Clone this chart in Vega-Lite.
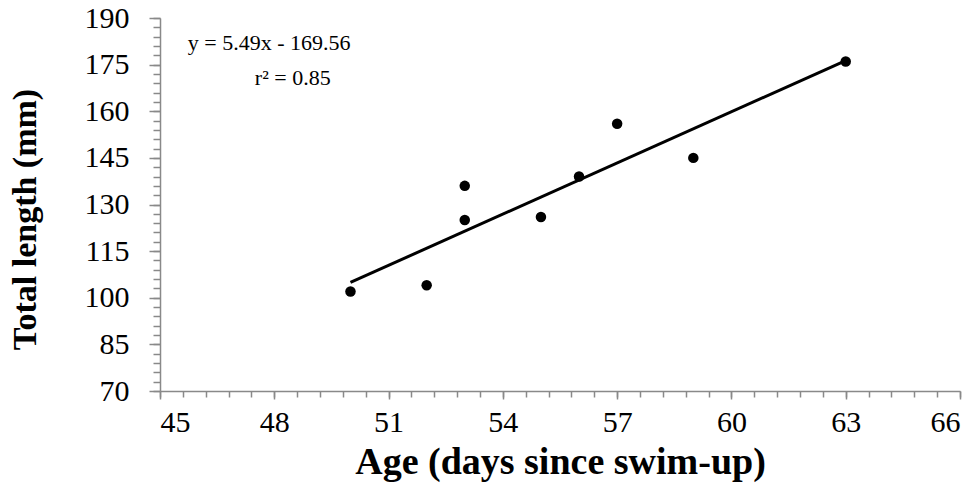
{
  "$schema": "https://vega.github.io/schema/vega-lite/v6.json",
  "width": 800,
  "height": 373,
  "autosize": "none",
  "padding": {"left": 160, "top": 18, "right": 20, "bottom": 99},
  "background": "white",
  "config": {"view": {"stroke": null}},
  "datasets": {
    "points": [
      {"age": 50, "length": 102},
      {"age": 52, "length": 104},
      {"age": 53, "length": 136},
      {"age": 53, "length": 125},
      {"age": 55, "length": 126},
      {"age": 56, "length": 139},
      {"age": 57, "length": 156},
      {"age": 59, "length": 145},
      {"age": 63, "length": 176}
    ],
    "fit": [
      {"age": 50, "length": 104.94},
      {"age": 63, "length": 176.31}
    ],
    "labels": [
      {"age": 45.73, "length": 179.7, "label": "y = 5.49x - 169.56"},
      {"age": 47.49, "length": 168.4, "label": "r² = 0.85"}
    ]
  },
  "resolve": {"scale": {"x": "independent", "y": "independent"}, "axis": {"x": "independent", "y": "independent"}},
  "layer": [
    {
      "data": {"name": "fit"},
      "mark": {"type": "line", "color": "black", "strokeWidth": 3},
      "encoding": {
        "x": {"field": "age", "type": "quantitative",
          "scale": {"domain": [45, 66], "nice": false, "zero": false},
          "axis": {"orient": "bottom", "values": [45,45.6,46.2,46.8,47.4,48,48.6,49.2,49.8,50.4,51,51.6,52.2,52.8,53.4,54,54.6,55.2,55.8,56.4,57,57.6,58.2,58.8,59.4,60,60.6,61.2,61.8,62.4,63,63.6,64.2,64.8,65.4,66],
            "labels": false, "title": null, "grid": false, "domain": false, "tickSize": 6, "tickColor": "#898989", "tickWidth": 1.5}},
        "y": {"field": "length", "type": "quantitative",
          "scale": {"domain": [70, 190], "nice": false, "zero": false},
          "axis": {"orient": "left", "values": [70,73,76,79,82,85,88,91,94,97,100,103,106,109,112,115,118,121,124,127,130,133,136,139,142,145,148,151,154,157,160,163,166,169,172,175,178,181,184,187,190],
            "labels": false, "title": null, "grid": false, "domain": false, "tickSize": 7, "tickColor": "#898989", "tickWidth": 1.5}}
      }
    },
    {
      "data": {"name": "points"},
      "mark": {"type": "point", "filled": true, "shape": "circle", "color": "black", "size": 110, "opacity": 1},
      "encoding": {
        "x": {"field": "age", "type": "quantitative",
          "scale": {"domain": [45, 66], "nice": false, "zero": false},
          "axis": {"orient": "bottom", "values": [45,48,51,54,57,60,63,66], "grid": false,
            "domainColor": "#898989", "domainWidth": 1.5, "tickColor": "#898989", "tickWidth": 1.5, "tickSize": 8,
            "labelFont": "Liberation Serif", "labelFontSize": 30, "labelColor": "black", "labelPadding": 8,
            "title": "Age (days since swim-up)", "titleFont": "Liberation Serif", "titleFontSize": 38, "titleFontWeight": "bold", "titleColor": "black", "titlePadding": 6}},
        "y": {"field": "length", "type": "quantitative",
          "scale": {"domain": [70, 190], "nice": false, "zero": false},
          "axis": {"orient": "left", "values": [70,85,100,115,130,145,160,175,190], "grid": false,
            "domainColor": "#898989", "domainWidth": 1.5, "tickColor": "#898989", "tickWidth": 1.5, "tickSize": 11,
            "labelFont": "Liberation Serif", "labelFontSize": 30, "labelColor": "black", "labelPadding": 20,
            "title": "Total length (mm)", "titleFont": "Liberation Serif", "titleFontSize": 34, "titleFontWeight": "bold", "titleColor": "black", "titlePadding": 42, "titleY": 201}}
      }
    },
    {
      "data": {"name": "labels"},
      "mark": {"type": "text", "align": "left", "baseline": "alphabetic", "font": "Liberation Serif", "fontSize": 22, "color": "black"},
      "encoding": {
        "x": {"field": "age", "type": "quantitative", "scale": {"domain": [45, 66], "nice": false, "zero": false}, "axis": null},
        "y": {"field": "length", "type": "quantitative", "scale": {"domain": [70, 190], "nice": false, "zero": false}, "axis": null},
        "text": {"field": "label"}
      }
    }
  ]
}
